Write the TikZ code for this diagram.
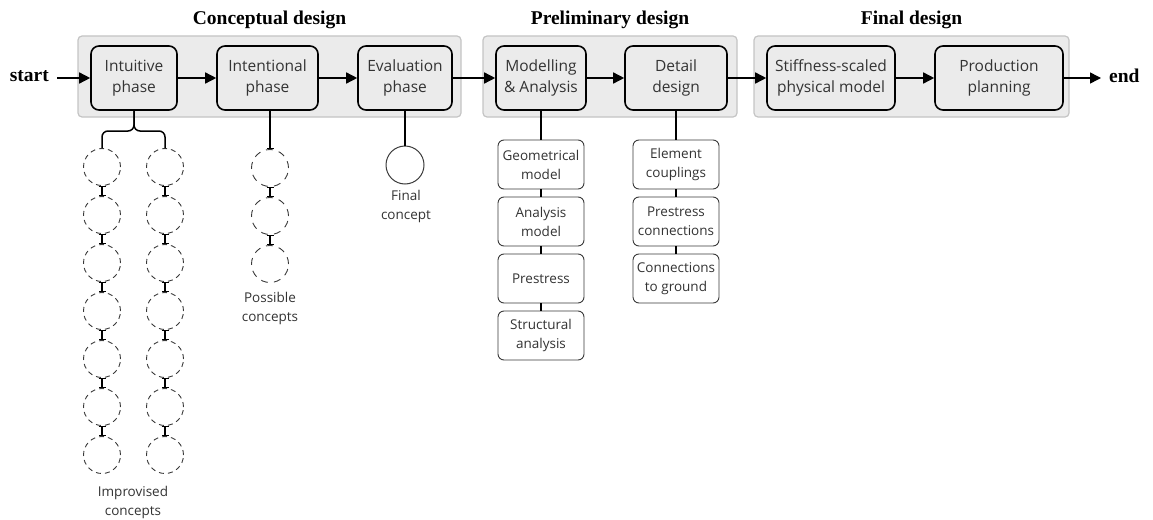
\documentclass[tikz,border=0pt]{standalone}
\usepackage{fontspec}
\setmainfont{Open Sans}
\newfontfamily\titlefont{Liberation Serif}
\usetikzlibrary{arrows.meta}
\definecolor{panelfill}{HTML}{EBEBEB}
\definecolor{paneldraw}{HTML}{C4C4C4}
\definecolor{txt}{HTML}{333333}
\definecolor{subdraw}{HTML}{3A3A3A}
\tikzset{
  panel/.style={draw=paneldraw, fill=panelfill, line width=1.2pt, rounded corners=4pt, minimum height=81pt, inner sep=0pt},
  mainbox/.style={draw=black, fill=panelfill, line width=1.6pt, rounded corners=8pt, minimum height=64pt, inner sep=0pt, align=center, text=txt, font=\fontsize{15.5}{21}\selectfont},
  subbox/.style={draw=subdraw, fill=white, line width=0.9pt, rounded corners=6pt, minimum width=86pt, minimum height=49pt, inner sep=0pt, align=center, text=txt, font=\fontsize{13.5}{19}\selectfont},
  concept/.style={circle, draw=subdraw, line width=0.9pt, dash pattern=on 5pt off 4pt, minimum size=37pt, inner sep=0pt},
  finalc/.style={circle, draw=subdraw, line width=1pt, minimum size=38pt, inner sep=0pt},
  title/.style={font=\titlefont\bfseries\fontsize{19.5}{22}\selectfont, anchor=base},
  lbl/.style={align=center, text=txt, font=\fontsize{13.5}{19}\selectfont},
  flow/.style={line width=1.5pt, -{Triangle[length=11pt,width=11pt]}},
  conn/.style={line width=1.5pt},
  tick/.style={line width=1.4pt, {Bar[width=7pt,line width=1.4pt]}-{Bar[width=7pt,line width=1.4pt]}},
}
\begin{document}
\begin{tikzpicture}[x=1pt,y=-1pt]
\useasboundingbox (0,0) rectangle (1153,519);

% panels
\node[panel, minimum width=383pt] (P1) at (269.5,76.5) {};
\node[panel, minimum width=254pt] (P2) at (610,76.5) {};
\node[panel, minimum width=315pt] (P3) at (911.5,76.5) {};

\node[title] (T1) at (269.5,25) {Conceptual design};
\node[title] (T2) at (610,25) {Preliminary design};
\node[title] (T3) at (911.5,25) {Final design};

% main boxes
\node[mainbox, minimum width=86pt] (I) at (134,78) {Intuitive\\phase};
\node[mainbox, minimum width=101pt] (N) at (267.5,78) {Intentional\\phase};
\node[mainbox, minimum width=94pt] (E) at (405,78) {Evaluation\\phase};
\node[mainbox, minimum width=90pt] (M) at (541,78) {Modelling\\\& Analysis};
\node[mainbox, minimum width=102pt] (D) at (676,78) {Detail\\design};
\node[mainbox, minimum width=128pt] (S) at (831,78) {Stiffness-scaled\\physical model};
\node[mainbox, minimum width=128pt] (R) at (999,78) {Production\\planning};

% start / end
\node[font=\titlefont\bfseries\fontsize{19.5}{22}\selectfont, anchor=east, inner sep=0pt] (start) at (49,76) {start};
\coordinate (s0) at (57,78);
\coordinate (e0) at (1101,78);
\node[font=\titlefont\bfseries\fontsize{19.5}{22}\selectfont, anchor=west, inner sep=0pt] (end) at (1109,76) {end};

\draw[flow] (s0) -- (I.west);
\draw[flow] (I) -- (N);
\draw[flow] (N) -- (E);
\draw[flow] (E) -- (M);
\draw[flow] (M) -- (D);
\draw[flow] (D) -- (S);
\draw[flow] (S) -- (R);
\draw[flow] (R.east) -- (e0);

% improvised concepts columns
\foreach \k in {1,...,7}{
  \node[concept] (a\k) at (102,{167+48*(\k-1)}) {};
  \node[concept] (b\k) at (165,{167+48*(\k-1)}) {};
}
\foreach \k [count=\j from 2] in {1,...,6}{
  \draw[tick] (a\k.south) -- (a\j.north);
  \draw[tick] (b\k.south) -- (b\j.north);
}
\draw[conn, rounded corners=6pt] (I.south) -- (134,131) -| (a1.north);
\draw[conn, rounded corners=6pt] (I.south) -- (134,131) -| (b1.north);
\node[lbl] (impl) at (133,502) {Improvised\\concepts};

% possible concepts
\foreach \k in {1,2,3}{
  \node[concept, dash pattern=on 7pt off 6pt] (p\k) at (270,{168+48*(\k-1)}) {};
}
\draw[conn, -{Bar[width=7pt,line width=1.4pt]}] (N.south -| p1) -- (p1.north);
\draw[tick] (p1.south) -- (p2.north);
\draw[tick] (p2.south) -- (p3.north);
\node[lbl] (posl) at (270,308) {Possible\\concepts};

% final concept
\node[finalc] (fc) at (405,165) {};
\draw[conn] (E.south) -- (fc.north);
\node[lbl] (fcl) at (406,206) {Final\\concept};

% modelling sub-boxes
\node[subbox] (g1) at (541,164.5) {Geometrical\\model};
\node[subbox] (g2) at (541,221.5) {Analysis\\model};
\node[subbox] (g3) at (541,278.5) {Prestress};
\node[subbox] (g4) at (541,335.5) {Structural\\analysis};
\draw[conn] (M.south) -- (g1.north);
\draw[conn] (g1) -- (g2);
\draw[conn] (g2) -- (g3);
\draw[conn] (g3) -- (g4);

% detail sub-boxes
\node[subbox] (d1) at (676,164.5) {Element\\couplings};
\node[subbox] (d2) at (676,221.5) {Prestress\\connections};
\node[subbox] (d3) at (676,278.5) {Connections\\to ground};
\draw[conn] (D.south) -- (d1.north);
\draw[conn] (d1) -- (d2);
\draw[conn] (d2) -- (d3);
\end{tikzpicture}
\end{document}
